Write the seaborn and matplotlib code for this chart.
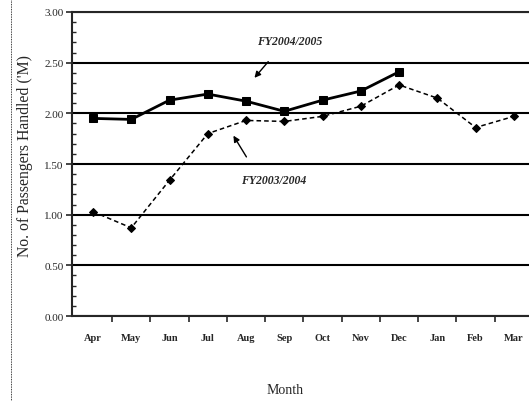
import numpy as np
import pandas as pd
import seaborn as sns
import matplotlib.pyplot as plt
from matplotlib.ticker import MultipleLocator, FixedLocator

months = ["Apr", "May", "Jun", "Jul", "Aug", "Sep", "Oct", "Nov", "Dec", "Jan", "Feb", "Mar"]
fy2004_05 = [1.95, 1.94, 2.13, 2.19, 2.12, 2.02, 2.13, 2.22, 2.41]
fy2003_04 = [1.03, 0.87, 1.34, 1.80, 1.93, 1.92, 1.97, 2.07, 2.28, 2.15, 1.86, 1.97]
y_ticks = [0.0, 0.5, 1.0, 1.5, 2.0, 2.5, 3.0]

df_new = pd.DataFrame({"pos": np.arange(len(fy2004_05)), "value": fy2004_05})
df_old = pd.DataFrame({"pos": np.arange(len(fy2003_04)), "value": fy2003_04})

sns.set_style("ticks")
plt.rcParams["font.family"] = ["Liberation Serif", "DejaVu Serif"]

fig = plt.figure(figsize=(5.29, 4.02), dpi=100)
ax = fig.add_axes([0.136, 0.2114, 0.8716, 0.7563])

for y in y_ticks:
    ax.axhline(y, color="black", lw=1.5, zorder=1)

sns.lineplot(data=df_old, x="pos", y="value", ax=ax, color="black", lw=1.1,
             linestyle=(0, (3, 2)), marker="D", markersize=4.5,
             markeredgecolor="black", zorder=3)
sns.lineplot(data=df_new, x="pos", y="value", ax=ax, color="black", lw=2.0,
             marker="s", markersize=5.5, markeredgecolor="black", zorder=4)

ax.set_xlim(-0.55, len(months) - 0.5)
ax.set_ylim(0, 3.0)
ax.set_xticks(np.arange(len(months)))
ax.set_xticklabels(months, fontsize=7.5, fontweight="bold")
ax.xaxis.set_minor_locator(FixedLocator(np.arange(len(months) - 1) + 0.5))
ax.tick_params(axis="x", which="major", length=0, pad=12)
ax.tick_params(axis="x", which="minor", length=4, width=1.2, direction="out")
ax.set_yticks(y_ticks)
ax.set_yticklabels([f"{v:.2f}" for v in y_ticks], fontsize=8)
ax.yaxis.set_minor_locator(MultipleLocator(0.1))
ax.tick_params(axis="y", which="major", length=4, width=1.2, direction="out", pad=2)
ax.tick_params(axis="y", which="minor", length=3, width=1.0, direction="in")

ax.spines["right"].set_visible(False)
for side in ["left", "bottom", "top"]:
    ax.spines[side].set_linewidth(1.5)

ax.set_xlabel("Month", fontsize=10)
ax.xaxis.set_label_coords(0.462, -0.22)
ax.set_ylabel("No. of Passengers Handled ('M)", fontsize=11.3)
ax.yaxis.set_label_coords(-0.085, 0.53)

label_style = dict(fontsize=8.5, fontstyle="italic", fontweight="bold", ha="center", va="center")
ax.text(5.13, 2.71, "FY2004/2005", **label_style)
ax.text(4.71, 1.34, "FY2003/2004", **label_style)
arrow_style = dict(arrowstyle="-|>", color="black", lw=1.0, shrinkA=0, shrinkB=0, mutation_scale=9)
ax.annotate("", xy=(4.22, 2.35), xytext=(4.58, 2.51), arrowprops=arrow_style)
ax.annotate("", xy=(3.67, 1.78), xytext=(4.01, 1.57), arrowprops=arrow_style)

fig.add_artist(plt.Line2D([0.021, 0.021], [0.0, 1.0], color="black", lw=0.6,
                          linestyle=(0, (1, 1)), transform=fig.transFigure))

fig.savefig("out.png", dpi=100)
